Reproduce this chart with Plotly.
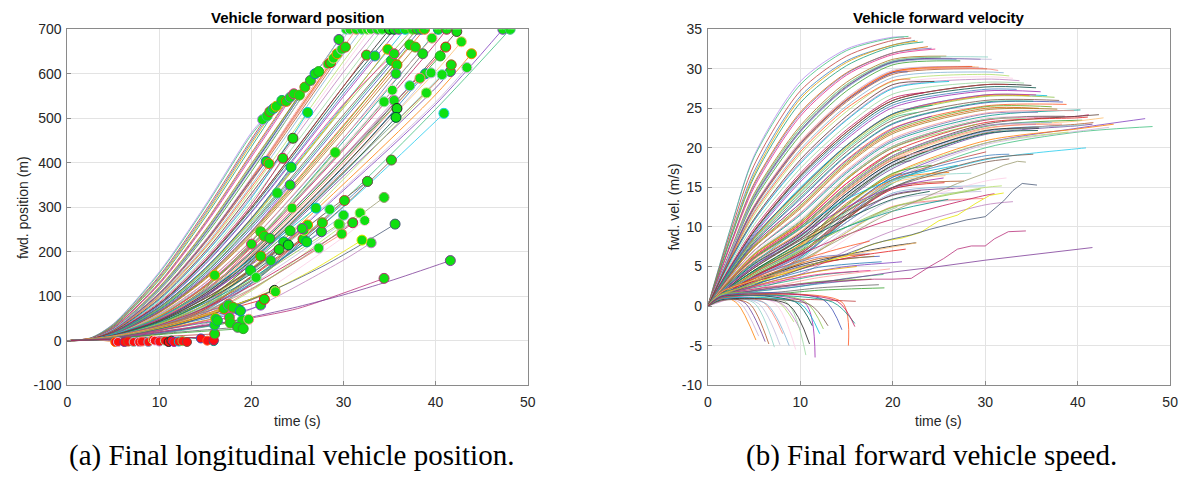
import plotly.graph_objects as go

# ---------------- data ----------------
# knot grid (s) used by the fan / mid groups: values are given at these times, then at the end time
G = [0, 2.5, 5, 10, 15, 20, 30, 40]

fan_t_end = [21.2, 21.7, 22.0, 22.4, 22.7, 23.3, 23.8, 24.2, 24.6, 25.2, 25.8, 26.4, 26.9, 27.3, 28.3, 28.6, 28.9, 29.3, 29.8, 29.5, 30.2,
             30.3, 30.7, 31.4, 32.0, 32.6, 33.0, 33.7, 34.2, 35.0, 35.5, 36.0, 36.7, 37.5, 38.0, 38.4, 38.8, 40.3, 41.2, 42.3, 47.3, 48.1,
             32.5, 33.4, 34.8, 35.2, 35.8, 35.7, 35.5, 37.2, 37.8, 38.6, 38.9, 40.5, 39.6, 41.1, 42.8, 43.9, 43.4, 41.6, 41.7, 40.7, 39.5,
             38.3, 37.2, 39.0, 35.3, 35.5, 34.4, 35.8, 35.7, 40.9,
             26.1, 29.1, 35.2, 21.6, 21.9, 24.3, 23.4, 24.5, 24.2, 22.8, 30.1, 32.6]

fan_pos = [
    [0, 6, 38, 155, 305, 468, 497], [0, 6, 37, 152, 301, 463, 505], [0, 5, 35, 146, 292, 453, 515],
    [0, 5, 34, 143, 287, 448, 522], [0, 5, 33, 140, 283, 443, 527], [0, 5, 32, 137, 278, 436, 540],
    [0, 5, 30, 131, 267, 422, 538], [0, 5, 30, 129, 264, 418, 547], [0, 4.5, 29, 127, 261, 413, 555],
    [0, 4, 27, 119, 246, 394, 552], [0, 4, 27, 121, 249, 398, 570], [0, 4, 26, 117, 243, 390, 585],
    [0, 4, 26, 116, 241, 388, 600], [0, 4, 25, 113, 236, 380, 605], [0, 4, 24, 108, 226, 367, 622],
    [0, 4, 24, 107, 225, 365, 625], [0, 4, 24, 106, 223, 362, 635], [0, 4, 24, 106, 224, 364, 645],
    [0, 4, 24, 107, 226, 367, 655], [0, 4, 26, 116, 242, 390, 677], [0, 4, 23, 104, 220, 358, 660],
    [0, 4, 26, 118, 245, 393, 700], [0, 4, 25, 115, 240, 386, 700], [0, 4, 24, 106, 223, 362, 660, 700],
    [0, 3.5, 23, 102, 214, 350, 644, 700], [0, 3.5, 22, 98, 207, 339, 628, 700], [0, 3.5, 21, 95, 201, 331, 617, 700],
    [0, 3.5, 21, 93, 197, 325, 604, 700], [0, 3, 20, 89, 189, 313, 586, 700], [0, 3, 18, 83, 180, 300, 572, 700],
    [0, 3, 18, 82, 178, 296, 563, 700], [0, 3, 17, 79, 172, 288, 549, 700], [0, 3, 16, 75, 164, 275, 530, 700],
    [0, 2.5, 16, 73, 159, 270, 523, 700], [0, 2.5, 15, 70, 153, 261, 508, 700], [0, 2.5, 15, 68, 148, 253, 496, 700],
    [0, 2.5, 14, 66, 144, 245, 485, 700], [0, 2.5, 13, 58, 125, 215, 448, 700], [0, 2, 12, 55, 121, 211, 429, 668, 700],
    [0, 2, 11, 51, 113, 198, 406, 640, 695], [0, 1.5, 8, 37, 86, 156, 338, 531, 700], [0, 1, 5, 27, 70, 136, 315, 520, 700],
    [0, 3, 18, 83, 180, 300, 572, 642], [0, 3, 17, 80, 174, 290, 555, 640], [0, 2.5, 16, 74, 161, 273, 527, 655],
    [0, 2.5, 15, 70, 152, 258, 502, 630], [0, 2.5, 14, 64, 140, 240, 476, 620], [0, 2.3, 13, 60, 130, 225, 455, 600],
    [0, 2.5, 16, 75, 163, 276, 532, 645], [0, 2.5, 14, 65, 142, 243, 482, 665], [0, 2.5, 14, 63, 138, 236, 470, 660],
    [0, 2, 12, 56, 123, 214, 433, 645], [0, 2, 10, 48, 107, 188, 390, 600], [0, 2, 11, 51, 113, 198, 405, 640],
    [0, 2.3, 13, 60, 131, 226, 456, 680], [0, 2, 11.5, 52, 115, 202, 413, 634, 660], [0, 2, 10.5, 49, 108, 190, 392, 605, 672],
    [0, 1.5, 8.5, 39, 90, 163, 352, 553, 645], [0, 1.5, 8, 37, 87, 157, 342, 536, 614], [0, 2, 9.5, 44, 99, 176, 370, 568, 605],
    [0, 2, 10, 46, 103, 182, 380, 580, 620], [0, 2, 9.5, 45, 101, 179, 376, 598], [0, 2, 10, 47, 105, 185, 385, 602],
    [0, 2, 11, 50, 110, 194, 400, 590], [0, 2, 11, 52, 114, 200, 411, 573], [0, 1.5, 8.5, 39, 90, 162, 363, 557],
    [0, 2.5, 12, 57, 125, 218, 438, 563], [0, 2, 11, 52, 115, 201, 414, 540], [0, 2, 12, 56, 123, 214, 434, 537],
    [0, 2, 10, 48, 106, 187, 392, 522], [0, 2, 9.5, 46, 102, 180, 377, 502], [0, 1, 5, 22, 63, 130, 300, 493, 511],
    [0, 3.5, 20, 92, 196, 321, 513], [0, 2, 12, 56, 123, 214, 423], [0, 1, 5, 22, 62, 128, 302, 406],
    [0, 4, 24, 106, 223, 362, 403], [0, 3.8, 22, 100, 210, 345, 398], [0, 3, 17, 76, 163, 275, 390],
    [0, 3.2, 19, 86, 184, 306, 410], [0, 3.5, 21, 95, 201, 331, 455], [0, 2.5, 14.5, 66, 144, 246, 350],
    [0, 2.5, 16, 72, 157, 266, 332], [0, 1.5, 7.5, 34, 80, 134, 315], [0, 1.5, 7, 32, 76, 130, 309, 358]]

fan_vel = [
    [0, 10, 19, 28.4, 32.5, 34, 34], [0, 10, 18.8, 28, 32.3, 33.9, 34.1], [0, 9.5, 17.8, 27.2, 31.6, 33.6, 33.9],
    [0, 9, 17, 26.5, 31, 33, 33.6], [0, 8.8, 16.6, 26.2, 30.8, 33, 33.5], [0, 8.6, 16.3, 25.7, 30.4, 32.8, 33.4],
    [0, 8, 15.5, 24.5, 29.5, 32, 32.8], [0, 8, 15.3, 24.3, 29.4, 32, 32.6], [0, 7.8, 15, 24, 29.2, 31.8, 32.5],
    [0, 7, 14, 22.5, 28, 31, 31.5], [0, 7.2, 14.2, 22.8, 28.3, 31.2, 31.6], [0, 7, 13.8, 22.2, 27.8, 30.8, 31.3],
    [0, 6.9, 13.6, 22, 27.6, 30.8, 31.2], [0, 6.8, 13.3, 21.6, 27.2, 30.5, 31], [0, 6.6, 12.7, 20.8, 26.3, 29.7, 30.3],
    [0, 6.5, 12.6, 20.6, 26.1, 29.6, 30.3], [0, 6.5, 12.5, 20.5, 26, 29.5, 30.2], [0, 6.5, 12.5, 20.6, 26.1, 29.6, 30.2],
    [0, 6.6, 12.6, 20.7, 26.3, 29.8, 30.1], [0, 7, 13.7, 22.1, 27.7, 30.9, 31.2], [0, 6.4, 12.3, 20.3, 25.8, 29.3, 30],
    [0, 7, 14, 22.5, 28, 31, 31.5], [0, 6.9, 13.6, 22, 27.6, 30.7, 31.2], [0, 6.5, 12.5, 20.5, 26, 29.5, 30, 29.8],
    [0, 6.3, 12, 19.8, 25.3, 28.9, 29.6, 29.5], [0, 6.1, 11.5, 19.2, 24.6, 28.4, 29.3, 29.1], [0, 6, 11, 18.5, 24, 28, 29, 28.8],
    [0, 5.8, 10.8, 18.2, 23.6, 27.6, 28.7, 28.5], [0, 5.5, 10.3, 17.4, 22.8, 26.8, 28.3, 28.2], [0, 5, 9.5, 16.5, 22, 26, 28, 27.9],
    [0, 5, 9.4, 16.3, 21.7, 25.7, 27.7, 27.6], [0, 4.8, 9, 15.7, 21.1, 25.1, 27.2, 27.1], [0, 4.6, 8.6, 15, 20.3, 24.3, 26.7, 26.6],
    [0, 4.5, 8.5, 14.5, 20, 24, 26.5, 26.4], [0, 4.3, 8.2, 14, 19.5, 23.5, 26, 26], [0, 4.2, 8, 13.5, 19, 23, 25.7, 25.8],
    [0, 4.1, 7.8, 13, 18.5, 22.5, 25.3, 25.5], [0, 3.8, 7, 11.5, 16.8, 20.8, 24, 24.8], [0, 3.5, 6.5, 10.5, 16, 20, 23.5, 24, 24.2],
    [0, 3.3, 6, 10, 15, 19, 23, 24, 24.2], [0, 2.1, 4.2, 7.3, 12.3, 16.3, 20.6, 22.5, 23.7], [0, 1.5, 3, 6, 11, 15.5, 20, 22, 22.7],
    [0, 5, 9.5, 16.5, 22, 26, 28, 28], [0, 4.9, 9.2, 16, 21.4, 25.4, 27.4, 27.4], [0, 4.5, 8.6, 14.7, 20.2, 24.2, 26.6, 26.6],
    [0, 4.3, 8, 13.7, 19.1, 23.1, 25.8, 25.9], [0, 4, 7.5, 12.5, 18, 22, 25, 25], [0, 3.8, 7, 11.7, 17, 21, 24.3, 24.5],
    [0, 4.6, 8.7, 14.8, 20.3, 24.3, 26.7, 26.7], [0, 4.1, 7.6, 12.7, 18.2, 22.2, 25.2, 25.2], [0, 4, 7.4, 12.3, 17.8, 21.8, 24.8, 24.9],
    [0, 3.6, 6.6, 10.7, 16.2, 20.2, 23.6, 24], [0, 3.1, 5.6, 9.2, 14.2, 18.2, 22.1, 22.8], [0, 3.3, 6, 9.8, 14.8, 18.8, 22.7, 23.5],
    [0, 3.8, 7, 11.8, 17.2, 21.2, 24.4, 24.7], [0, 3.4, 6.3, 10.3, 15.5, 19.5, 23.2, 23.8, 23.9], [0, 3.1, 5.7, 9.4, 14.5, 18.5, 22.4, 23.4, 23.8],
    [0, 2.3, 4.5, 7.7, 12.7, 16.7, 20.9, 22.4, 23], [0, 2.1, 4.2, 7.2, 12.2, 16, 20.4, 22.1, 22.6], [0, 2.8, 5.1, 8.5, 13.4, 17.4, 21.7, 22.8, 23],
    [0, 3, 5.4, 8.9, 13.8, 17.8, 21.9, 23, 23.2], [0, 2.9, 5.2, 8.7, 13.6, 17.6, 21.8, 22.9], [0, 3, 5.5, 9, 14, 18, 22, 22.8],
    [0, 3.2, 5.9, 9.7, 14.7, 18.7, 22.5, 23], [0, 3.3, 6.1, 10, 15, 19, 22.8, 23.2], [0, 2.3, 4.5, 7.6, 12.6, 16.6, 20.6, 22],
    [0, 3.6, 6.8, 11, 16.5, 20.5, 23.8, 23.8], [0, 3.3, 6.1, 10, 15, 19, 22.8, 23], [0, 3.5, 6.6, 10.8, 16.2, 20.2, 23.6, 23.7],
    [0, 3.1, 5.6, 9.2, 14.2, 18.2, 22.2, 22.5], [0, 2.9, 5.3, 8.8, 13.8, 17.8, 21.8, 22.2], [0, 1.5, 2.5, 6, 11, 15, 18.5, 19.9, 20],
    [0, 5.8, 10.8, 18, 23.5, 27.5, 28.4], [0, 3.5, 6.5, 10.5, 16, 20, 23], [0, 1.5, 2.6, 6.2, 11, 15, 18.6, 19.2],
    [0, 6.5, 12.5, 20.5, 26, 29.5, 29.6], [0, 6.2, 11.8, 19.5, 25, 28.5, 28.7], [0, 4.7, 8.8, 14.8, 20.3, 24.3, 25.4],
    [0, 5.2, 9.8, 16.8, 22.3, 26.3, 27], [0, 6, 11, 18.5, 24, 28, 28.4], [0, 4.2, 7.8, 13, 18.4, 22.4, 24],
    [0, 4.5, 8.4, 14.3, 19.8, 23.8, 24.5], [0, 2, 3.8, 6.8, 11.5, 16, 19.5], [0, 2, 3.7, 6.6, 11.2, 15.8, 19, 19.2]]

mid_t_end = [16.0, 19.9, 21.0, 22.1, 20.0, 21.0, 21.4, 22.0, 23.5, 24.2, 24.4, 25.6, 25.7, 26.1, 27.3, 27.6, 27.7,
             28.5, 29.6, 29.8, 30.0, 31.8, 32.3, 33.0,
             20.5, 22.5, 24.0, 25.5, 27.0, 29.5, 32.6, 18.6, 17.5, 26.0, 31.0, 23.0, 21.0, 19.0]
mid_pos = [
    [0, 2, 12, 55, 123, 147], [0, 1.5, 7, 34, 76, 158], [0, 1.5, 8, 38, 90, 173, 190], [0, 1.2, 6, 30, 75, 145, 180],
    [0, 2, 11.5, 53, 125, 217], [0, 2, 11, 52, 118, 222, 245], [0, 1.8, 10, 48, 110, 209, 235], [0, 1.5, 9, 42, 98, 191, 230],
    [0, 1.2, 7, 34, 81, 160, 222], [0, 1.5, 8, 38, 89, 173, 247], [0, 2, 10, 48, 110, 209, 298], [0, 1, 6, 29, 71, 143, 228],
    [0, 1.2, 7, 33, 78, 154, 248], [0, 1.3, 7.5, 35, 82, 160, 260], [0, 1, 5, 23, 57, 115, 208], [0, 1.1, 6, 28, 68, 135, 245],
    [0, 1.2, 6.5, 30, 73, 145, 265], [0, 1.3, 7, 33, 79, 155, 295], [0, 1, 5.5, 25, 62, 125, 260], [0, 1, 5, 22, 57, 115, 240],
    [0, 1.1, 6, 28, 68, 136, 282], [0, 1, 5, 23, 57, 112, 260, 287], [0, 1, 4.5, 19, 48, 93, 233, 270],
    [0, 0.8, 3.5, 15, 38, 71, 181, 220],
    [0, 2.7, 10.5, 38, 80, 142], [0, 2.2, 8.5, 29.5, 58, 94, 113], [0, 3, 11.8, 43, 90, 151, 215],
    [0, 3.5, 13, 48, 102, 171, 252], [0, 3.7, 14, 52, 110, 184, 298], [0, 2.7, 10.5, 38, 80, 136, 262],
    [0, 3.2, 12, 45, 96, 162, 318, 358], [0, 2.2, 8, 27, 53, 70], [0, 2.5, 9.4, 32, 65, 82],
    [0, 3, 11.6, 41, 85, 140, 222], [0, 2.5, 9.5, 35, 74, 124, 249, 265], [0, 3.2, 12.5, 45, 95, 159, 205],
    [0, 1.9, 7, 23, 45, 72, 80], [0, 1.6, 5.5, 16, 31, 46]]
mid_vel = [
    [0, 3.5, 6.5, 10.5, 16, 17], [0, 2, 3.8, 7, 12, 15.5], [0, 2.2, 4.3, 7.8, 13, 16.5, 16.8], [0, 1.8, 3.5, 6.5, 11.5, 14.8, 15.3],
    [0, 3.4, 6.2, 10.2, 15.5, 19.5], [0, 3.3, 6.1, 10, 15.2, 19.4, 19.8], [0, 3, 5.6, 9.3, 14.5, 18.5, 18.8], [0, 2.6, 5, 8.5, 13.5, 17.8, 18.4],
    [0, 2.2, 4.2, 7.4, 12.2, 16.3, 17.2], [0, 2.4, 4.5, 8, 12.8, 16.8, 17.8], [0, 3, 5.6, 9.3, 14.5, 18.5, 19.8], [0, 1.9, 3.7, 6.6, 11, 14.8, 15.6],
    [0, 2.1, 4, 7.2, 11.8, 15.6, 16.5], [0, 2.2, 4.2, 7.5, 12.2, 16, 16.9], [0, 1.6, 3, 5.6, 9.5, 12.5, 13.4], [0, 1.8, 3.5, 6.3, 10.6, 14.1, 14.9],
    [0, 2, 3.8, 6.8, 11.2, 15, 15.8], [0, 2.1, 4, 7.2, 11.8, 15.8, 16.8], [0, 1.7, 3.2, 5.9, 10, 13.4, 14.5], [0, 1.6, 3, 5.4, 9.3, 12.6, 13.6],
    [0, 1.8, 3.5, 6.4, 10.6, 14.3, 15.2], [0, 1.6, 3, 5.5, 9.3, 12.5, 15, 15.2], [0, 1.2, 2.3, 4.8, 8.5, 12.3, 15.8, 16.2],
    [0, 1, 2, 4, 7, 9.5, 12.8, 13.2],
    [0, 2.2, 4, 7, 10, 12.5], [0, 1.8, 3.2, 5.2, 6.5, 7.6, 8.0], [0, 2.5, 4.5, 8, 11, 13.5, 14.5],
    [0, 2.8, 5, 9, 12.5, 15, 16.2], [0, 3, 5.5, 9.8, 13.5, 16, 17.8], [0, 2.2, 4, 7, 10, 12.5, 14.8],
    [0, 2.6, 4.8, 8.5, 12, 15, 18.2, 18.6], [0, 1.8, 3, 5, 6, 6.3], [0, 2, 3.5, 5.8, 7.5, 8.2],
    [0, 2.5, 4.4, 7.5, 10, 12, 13.5], [0, 2, 3.7, 6.5, 9, 11, 14, 14.2], [0, 2.6, 4.8, 8.3, 11.5, 14, 14.6],
    [0, 1.5, 2.5, 4, 5, 5.5, 5.6], [0, 1.3, 1.8, 2.5, 3.5, 4.0]]

# slow vehicles: positions on grid GL_POS, velocities on grid GL_VEL, then the end time
GL_POS = [0, 4, 8, 12, 16]
GL_VEL = [0, 1.5, 4, 8, 12, 16]
low_t_end = [16.0, 16.0, 16.1, 16.3, 17.0, 17.5, 17.6, 17.7, 18.0, 18.5, 18.8, 19.1, 19.7, 21.4, 22.6]
low_pos = [[0, 3, 7, 11, 15], [0, 5, 13, 23, 35], [0, 6, 17.5, 33, 50], [0, 5.6, 16, 30, 45], [0, 7.4, 22.6, 44, 72],
           [0, 7.8, 24, 46, 80], [0, 5.7, 16.5, 31, 52], [0, 5, 13.6, 25, 40], [0, 7.2, 21.4, 41, 75], [0, 4.5, 11, 19, 30],
           [0, 6.3, 18.7, 36, 67], [0, 4, 10, 17, 27], [0, 5, 14, 26, 48], [0, 7.2, 20.8, 39, 62, 93], [0, 7.3, 21.5, 41, 65, 110]]
low_vel = [[0, 1.3, 1.1, 0.9, 0.8, 0.6], [0, 1.5, 1.8, 2.2, 2.8, 3.3], [0, 1.6, 2.3, 3.4, 4.4, 5.0], [0, 1.5, 2.1, 3.0, 3.9, 4.4],
           [0, 1.8, 3.0, 4.6, 6.0, 6.5], [0, 1.9, 3.2, 4.9, 6.2, 6.6], [0, 1.5, 2.2, 3.2, 4.0, 4.5], [0, 1.4, 1.8, 2.5, 3.1, 3.4],
           [0, 1.8, 2.9, 4.2, 5.5, 6.3], [0, 1.3, 1.5, 1.8, 2.3, 2.7], [0, 1.6, 2.5, 3.7, 4.9, 5.6], [0, 1.2, 1.3, 1.6, 2.0, 2.3],
           [0, 1.4, 2.0, 2.7, 3.6, 4.7], [0, 1.8, 2.8, 4.0, 5.3, 6.3, 7.2], [0, 1.8, 2.9, 4.2, 5.5, 6.6, 8.0]]

# individually traced vehicles (explicit knots)
sp_pos_t = [[0, 2.5, 5, 10, 15, 20, 25, 30, 34.4],
            [0, 4, 8, 12, 16, 20, 25, 30, 35, 41.6],
            [0, 4, 8, 12, 15, 19, 23, 27, 32],
            [0, 4, 8, 12, 15, 20, 24, 28, 32, 35.6],
            [0, 4, 8, 12, 16, 20, 24, 27, 30, 32, 34.4]]
sp_pos_x = [[0, 2.5, 7.5, 20, 35, 51, 72, 107, 140],
            [0, 5, 13, 24, 37, 53, 76, 103, 134, 180],
            [0, 6, 19, 38, 56, 86, 120, 163, 226],
            [0, 5.5, 17.5, 36, 54, 92, 129, 170, 217, 262],
            [0, 6, 20, 43, 76, 117, 166, 207, 252, 285, 322]]
sp_vel_t = [[0, 1.5, 3, 6, 10, 15, 18, 20, 22, 24, 25.5, 27, 28.5, 30, 31, 32.5, 34.4],
            [0, 1.5, 4, 8, 12, 16, 20, 25, 30, 35, 41.6],
            [0, 1.5, 4, 8, 12, 15, 17, 19, 21, 23, 25, 27, 29, 30.5, 32],
            [0, 1.5, 4, 8, 12, 15, 18, 20, 22, 24, 26, 28, 30, 31, 32, 33, 34, 35.6],
            [0, 1.5, 4, 8, 12, 16, 20, 24, 27, 30, 32, 33.5, 34.4]]
sp_vel_v = [[0, 1.5, 1.8, 2.3, 2.8, 3.2, 3.4, 3.4, 3.5, 5, 6, 7.2, 7.6, 7.6, 8.5, 9.4, 9.5],
            [0, 1.4, 1.8, 2.4, 3.0, 3.6, 4.3, 5.0, 5.8, 6.5, 7.4],
            [0, 1.5, 2.5, 4, 5.5, 6.3, 7.5, 8.2, 8.6, 9.3, 10.8, 11.5, 13.0, 14.0, 14.3],
            [0, 1.3, 2.3, 3.8, 5.5, 6.6, 7.9, 8.5, 9.0, 9.7, 10.3, 10.9, 11.3, 12.3, 13.3, 14.6, 15.5, 15.3],
            [0, 1.4, 2.5, 4.5, 7, 9.5, 12, 14, 15.5, 16.8, 17.8, 18.3, 18.2]]
sp_colors = ["#b8307a", "#7d3c98", "#e6e600", "#4a5a78", "#9a9a70"]

# vehicles that stopped / reversed (red markers)
stop_t_end = [5.2, 5.5, 6.2, 6.6, 7.2, 7.8, 8.1, 8.8, 9.3, 9.5, 10.0, 10.6, 11.0, 11.3, 11.6, 12.1, 12.5, 13.0, 14.5, 15.2, 15.9, 15.9]
stop_x_end = [-3, -3, -3, -2, -3, -3, -2, -3, 2, 0, -2, 0, -3, 0, -3, -2, -1, -3, 5, 0, -1, 2]
stop_v_end = [-4.3, -3.8, -4.5, -4.8, -5.2, -4.9, -3.5, -5.0, -2.0, -5.5, -3.0, -6.2, -4.8, -2.5, -6.5, -3.5, -2.9, -2.5, -3.0, -5.0, -2.2, -2.6]
stop_t_turn = [3.2, 3.5, 4.0, 4.5, 5.0, 5.5, 6.0, 6.3, 7.5, 7.2, 8.0, 8.5, 8.7, 9.5, 10.5, 10.0, 10.5, 11.0, 12.5, 14.5, 13.5, 14.0]
stop_x_turn = [1.5, 1.6, 1.8, 2.0, 2.3, 2.5, 2.8, 3.0, 4.0, 3.5, 3.8, 4.2, 3.5, 4.4, 4.5, 4.0, 4.8, 3.5, 7.5, 5.5, 6.0, 6.5]
stop_v_turn = [0.3, 0.4, 0.4, 0.3, 0.4, 0.3, 0.5, 0.3, 0.6, 0.4, 0.3, 0.5, 0.2, 0.5, 0.4, 0.3, 0.6, 0.2, 0.8, 0.5, 0.5, 0.6]
stop_v_peak = [1.2, 1.0, 1.1, 0.9, 1.0, 1.2, 1.0, 0.8, 1.3, 1.1, 0.9, 1.4, 0.8, 1.2, 1.0, 0.9, 1.5, 0.7, 1.3, 1.0, 1.1, 1.2]

palette = ["#7f3fbf", "#3fbf7f", "#bf3f3f", "#3f7fbf", "#e69f00", "#1b9e77", "#d95f02", "#7570b3", "#e7298a", "#66a61e",
           "#a6761d", "#666666", "#1f78b4", "#33a02c", "#fb9a99", "#e31a1c", "#fdbf6f", "#ff7f00", "#cab2d6", "#6a3d9a",
           "#b15928", "#8dd3c7", "#bebada", "#fb8072", "#80b1d3", "#b3de69", "#fccde5", "#bc80bd", "#99d8a0", "#202020",
           "#004d40", "#9c27b0", "#00bcd4", "#8bc34a", "#795548", "#3f51b5", "#ff5722", "#009688", "#c2185b", "#5d4037"]
fan_color_override = {0: "#b58cf0", 71: "#22ccee"}

x_ticks = [0, 10, 20, 30, 40, 50]
x_tick_text = ["0", "10", "20", "30", "40", "50"]
pos_ticks = [-100, 0, 100, 200, 300, 400, 500, 600, 700]
pos_tick_text = ["-100", "0", "100", "200", "300", "400", "500", "600", "700"]
vel_ticks = [-10, -5, 0, 5, 10, 15, 20, 25, 30, 35]
vel_tick_text = ["-10", "-5", "0", "5", "10", "15", "20", "25", "30", "35"]

# ---------------- figure ----------------
fig = go.Figure()
LW = 0.8


def add_line(t, y, color, axis):
    fig.add_trace(go.Scatter(x=t, y=y, mode="lines", xaxis="x" if axis == 1 else "x2",
                             yaxis="y" if axis == 1 else "y2",
                             line=dict(color=color, width=LW, shape="spline", smoothing=0.8),
                             hoverinfo="skip", showlegend=False))


green_x, green_y, green_edge = [], [], []
red_x, red_y, red_edge = [], [], []
k = 0

for i, te in enumerate(fan_t_end):
    c = fan_color_override.get(i, palette[k % len(palette)]); k += 1
    tp = G[:len(fan_pos[i]) - 1] + [te]
    tv = G[:len(fan_vel[i]) - 1] + [te]
    add_line(tp, fan_pos[i], c, 1)
    add_line(tv, fan_vel[i], c, 2)
    green_x.append(te); green_y.append(fan_pos[i][-1]); green_edge.append(c)

for i, te in enumerate(mid_t_end):
    c = palette[k % len(palette)]; k += 1
    tp = G[:len(mid_pos[i]) - 1] + [te]
    tv = G[:len(mid_vel[i]) - 1] + [te]
    add_line(tp, mid_pos[i], c, 1)
    add_line(tv, mid_vel[i], c, 2)
    green_x.append(te); green_y.append(mid_pos[i][-1]); green_edge.append(c)

for i, te in enumerate(low_t_end):
    c = palette[k % len(palette)]; k += 1
    tp = GL_POS[:len(low_pos[i]) - 1] + [te]
    tv = GL_VEL[:len(low_vel[i]) - 1] + [te]
    add_line(tp, low_pos[i], c, 1)
    add_line(tv, low_vel[i], c, 2)
    green_x.append(te); green_y.append(low_pos[i][-1]); green_edge.append(c)

for i in range(len(sp_pos_t)):
    c = sp_colors[i]
    add_line(sp_pos_t[i], sp_pos_x[i], c, 1)
    fig.add_trace(go.Scatter(x=sp_vel_t[i], y=sp_vel_v[i], mode="lines", xaxis="x2", yaxis="y2",
                             line=dict(color=c, width=LW), hoverinfo="skip", showlegend=False))
    green_x.append(sp_pos_t[i][-1]); green_y.append(sp_pos_x[i][-1]); green_edge.append(c)

for i, te in enumerate(stop_t_end):
    c = palette[k % len(palette)]; k += 1
    add_line([0, stop_t_turn[i], te], [0, stop_x_turn[i], stop_x_end[i]], c, 1)
    add_line([0, 1.5, stop_t_turn[i], te], [0, stop_v_peak[i], stop_v_turn[i], stop_v_end[i]], c, 2)
    red_x.append(te); red_y.append(stop_x_end[i]); red_edge.append(c)

fig.add_trace(go.Scatter(x=red_x, y=red_y, mode="markers", xaxis="x", yaxis="y",
                         marker=dict(size=9, color="#ff1010", line=dict(color=red_edge, width=1)),
                         hoverinfo="skip", showlegend=False))
fig.add_trace(go.Scatter(x=green_x, y=green_y, mode="markers", xaxis="x", yaxis="y",
                         marker=dict(size=10, color="#10e010", line=dict(color=green_edge, width=1)),
                         hoverinfo="skip", showlegend=False))

W, H = 1191, 485
TICKFONT = dict(family="Liberation Sans, Arial, sans-serif", size=14, color="#262626")
axis_common = dict(showgrid=True, gridcolor="#e3e3e3", gridwidth=1, zeroline=False,
                   showline=True, linecolor="#8a8a8a", linewidth=1, mirror=True,
                   ticks="inside", ticklen=4, tickcolor="#8a8a8a", tickfont=TICKFONT)

fig.update_layout(
    width=W, height=H, margin=dict(l=0, r=0, t=0, b=0),
    paper_bgcolor="white", plot_bgcolor="white", showlegend=False,
    xaxis=dict(domain=[64 / W, 529 / W], range=[0, 50], tickvals=x_ticks, ticktext=x_tick_text,
               ticklabelstandoff=4, anchor="y", **axis_common),
    yaxis=dict(domain=[95 / H, 463 / H], range=[-100, 700], tickvals=pos_ticks, ticktext=pos_tick_text,
               ticklabelstandoff=2, anchor="x", **axis_common),
    xaxis2=dict(domain=[711 / W, 1178 / W], range=[0, 50], tickvals=x_ticks, ticktext=x_tick_text,
                ticklabelstandoff=4, anchor="y2", **axis_common),
    yaxis2=dict(domain=[95 / H, 463 / H], range=[-10, 35], tickvals=vel_ticks, ticktext=vel_tick_text,
                ticklabelstandoff=2, anchor="x2", **axis_common),
)

LABELFONT = dict(family="Liberation Sans, Arial, sans-serif", size=14, color="#262626")
TITLEFONT = dict(family="Liberation Sans, Arial, sans-serif", size=15, color="#000000")
CAPFONT = dict(family="Liberation Serif, DejaVu Serif, serif", size=29, color="#000000")


def ann(text, x, y, font, angle=0):
    fig.add_annotation(text=text, x=x / W, y=1 - y / H, xref="paper", yref="paper",
                       showarrow=False, font=font, textangle=angle, xanchor="center", yanchor="middle")


ann("<b>Vehicle forward position</b>", 296.5, 10, TITLEFONT)
ann("<b>Vehicle forward velocity</b>", 944.5, 10, TITLEFONT)
ann("fwd. position (m)", 19, 206, LABELFONT, -90)
ann("fwd. vel. (m/s)", 677, 206, LABELFONT, -90)
ann("time (s)", 296.5, 427, LABELFONT)
ann("time (s)", 944.5, 427, LABELFONT)
ann("(a) Final longitudinal vehicle position.", 290, 463, CAPFONT)
ann("(b) Final forward vehicle speed.", 937, 463, CAPFONT)

fig.write_html("out.html", config={"displayModeBar": False})
